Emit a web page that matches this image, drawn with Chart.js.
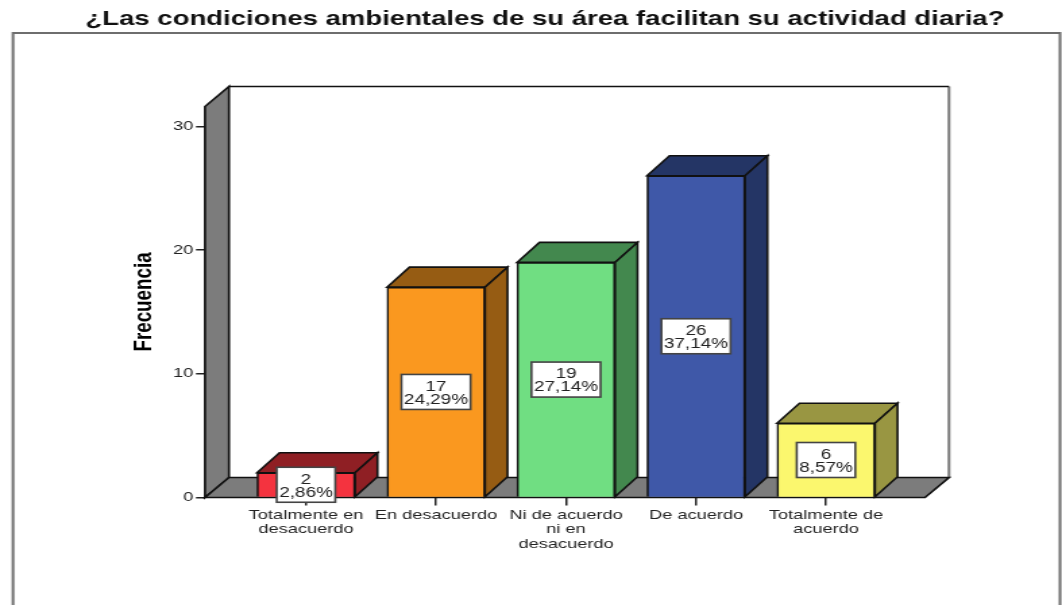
<!DOCTYPE html>
<html><head><meta charset="utf-8">
<style>html,body{margin:0;padding:0;background:#fff;overflow:hidden;width:1062px;height:605px}
canvas{display:block;transform-origin:0 0}</style>
<script src="https://cdn.jsdelivr.net/npm/chart.js@4"></script></head>
<body><canvas id="c" width="787" height="605"></canvas>
<script>
const titleText = "¿Las condiciones ambientales de su área facilitan su actividad diaria?";
const categories = [["Totalmente en","desacuerdo"],["En desacuerdo"],["Ni de acuerdo","ni en","desacuerdo"],["De acuerdo"],["Totalmente de","acuerdo"]];
const frequencies = [2,17,19,26,6];
const percentLabels = ["2,86%","24,29%","27,14%","37,14%","8,57%"];
const frontColors = ["#F4333F","#FA981F","#70DE82","#3F58A8","#FBF76E"];
const sideColors = ["#8F1F24","#965C13","#43884E","#243565","#999642"];

const CW = 787, S = 1062/CW, FONT = '"Liberation Sans", Arial, sans-serif';
const px = v => v/S;
const DX = px(24), BAR_DX = px(22.5), DY = 20, AXIS_SHIFT = px(36);
const cv = document.getElementById('c');
cv.style.transform='scaleX('+S+')';

function poly(ctx, pts, fill, stroke, lw){
  ctx.beginPath();
  pts.forEach((p,i)=> i?ctx.lineTo(p[0],p[1]):ctx.moveTo(p[0],p[1]));
  ctx.closePath();
  if(fill){ctx.fillStyle=fill;ctx.fill();}
  if(stroke){ctx.strokeStyle=stroke;ctx.lineWidth=lw||1.5;ctx.lineJoin='miter';ctx.stroke();}
}
const scene = {
  id:'scene',
  afterLayout(chart){
    const y = chart.scales.y;
    y.left -= AXIS_SHIFT; y.right -= AXIS_SHIFT;
    chart.titleBlock.left = 0; chart.titleBlock.right = 2*px(545);
  },
  beforeDraw(chart){
    const ctx = chart.ctx;
    ctx.save();
    ctx.strokeStyle='#6e6e6e'; ctx.lineWidth=2;
    ctx.beginPath(); ctx.moveTo(px(13),606); ctx.lineTo(px(13),33); ctx.lineTo(px(1060),33); ctx.lineTo(px(1060),606); ctx.stroke();
    ctx.restore();
  },
  beforeDatasetsDraw(chart){
    const ctx = chart.ctx, a = chart.chartArea, L = a.left-AXIS_SHIFT, R = px(925), T=a.top, B=a.bottom;
    ctx.save();
    ctx.strokeStyle='#777'; ctx.lineWidth=2;
    ctx.beginPath(); ctx.moveTo(R+DX,T-DY); ctx.lineTo(R+DX,B-DY); ctx.stroke();
    ctx.strokeStyle='#111'; ctx.lineWidth=1.5;
    ctx.beginPath(); ctx.moveTo(L+DX,T-DY); ctx.lineTo(R+DX,T-DY); ctx.stroke();
    poly(ctx,[[L,B],[L+DX,B-DY],[L+DX,T-DY],[L,T]],'#7c7c7c','#111',1.7);
    poly(ctx,[[L,B],[L+DX,B-DY],[R+DX,B-DY],[R,B]],'#7c7c7c','#111',1.7);
    chart.getDatasetMeta(0).data.forEach((b,i)=>{
      const l=b.x-b.width/2, r=b.x+b.width/2;
      poly(ctx,[[l,b.y],[l+BAR_DX,b.y-DY],[r+BAR_DX,b.y-DY],[r,b.y]],sideColors[i],'#111',1.6);
      poly(ctx,[[r,b.y],[r+BAR_DX,b.y-DY],[r+BAR_DX,b.base-DY],[r,b.base]],sideColors[i],'#111',1.6);
    });
    ctx.restore();
  },
  afterDatasetsDraw(chart){
    const ctx = chart.ctx;
    ctx.save();
    ctx.font = '14px '+FONT;
    ctx.textAlign='center'; ctx.textBaseline='middle';
    chart.getDatasetMeta(0).data.forEach((b,i)=>{
      const w = ctx.measureText(percentLabels[i]).width+px(5), h=35, m=(b.y+b.base)/2;
      ctx.fillStyle='#fff'; ctx.fillRect(b.x-w/2,m-h/2,w,h);
      ctx.strokeStyle='#444'; ctx.lineWidth=1.6; ctx.strokeRect(b.x-w/2,m-h/2,w,h);
      ctx.fillStyle='#222';
      ctx.fillText(String(frequencies[i]),b.x,m-5);
      ctx.fillText(percentLabels[i],b.x,m+8);
    });
    ctx.restore();
  }
};
new Chart(cv,{
  type:'bar',
  data:{labels:categories,datasets:[{label:'Frecuencia',data:frequencies,backgroundColor:frontColors,borderColor:'#111',borderWidth:1.6,barThickness:px(98)}]},
  options:{
    responsive:false,maintainAspectRatio:false,animation:false,devicePixelRatio:1,
    layout:{padding:{left:0,right:CW-px(891),top:0,bottom:0}},
    plugins:{legend:{display:false},tooltip:{enabled:false},
      title:{display:true,text:titleText,color:'#111',font:{family:FONT,size:20.4,weight:'bold',lineHeight:1.2},padding:{top:7,bottom:75}}},
    scales:{
      x:{afterFit(s){s.height=107.5;},
        grid:{display:true,drawOnChartArea:false,offset:false,tickLength:8,color:'#222',lineWidth:1.5},
        border:{display:false},
        ticks:{autoSkip:false,maxRotation:0,minRotation:0,padding:2.5,color:'#222',font:{family:FONT,size:13.5,lineHeight:1.07}}},
      y:{min:0,max:31.6,afterFit(s){s.width=px(241);},
        afterBuildTicks(s){s.ticks=[0,10,20,30].map(v=>({value:v}));},
        grid:{display:true,drawOnChartArea:false,tickLength:px(9),color:'#222',lineWidth:1.5},
        border:{display:false},
        ticks:{padding:2,color:'#222',font:{family:FONT,size:13.5}},
        title:{display:true,text:'Frecuencia',color:'#000',font:{family:FONT,size:18.8,weight:'bold',lineHeight:1.2},padding:{top:122.7,bottom:0}}}
    }
  },
  plugins:[scene]
});
</script></body></html>
